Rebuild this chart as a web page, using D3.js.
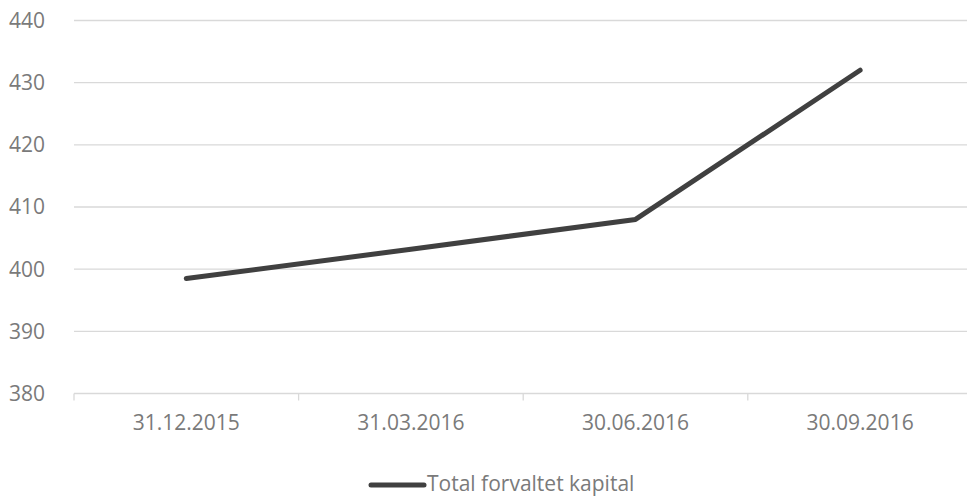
<!DOCTYPE html>
<html><head><meta charset="utf-8">
<script src="https://cdn.jsdelivr.net/npm/d3@7"></script>
<style>body{margin:0;background:#fff}svg{display:block}text{font-family:"Open Sans",sans-serif}</style>
</head><body><svg id="c" width="967" height="496"></svg>
<script>
const categories = ["31.12.2015","31.03.2016","30.06.2016","30.09.2016"];
const values = [398.5, 403.2, 408, 432];
const yTicks = [380,390,400,410,420,430,440];
const seriesName = "Total forvaltet kapital";

const svg = d3.select("#c");
const mLeft = 74, mRight = 972.4, mTop = 20.5, mBottom = 393.5;
const x = d3.scaleBand().domain(categories).range([mLeft, mRight]);
const y = d3.scaleLinear().domain([380, 440]).range([mBottom, mTop]);
const textColor = "#7a7a7a", gridColor = "#d9d9d9";
const fs = 21;

// gridlines
svg.append("g").selectAll("line").data(yTicks.filter(d => d !== 380)).join("line")
  .attr("x1", mLeft).attr("x2", mRight).attr("y1", d => y(d)).attr("y2", d => y(d))
  .attr("stroke", gridColor).attr("stroke-width", 1.3);

// y labels
svg.append("g").selectAll("text").data(yTicks).join("text")
  .attr("x", 45).attr("y", d => y(d)).attr("dy", "0.35em").attr("text-anchor", "end")
  .attr("fill", textColor).attr("font-size", fs).text(d => d);

// x axis
const xAxis = d3.axisBottom(x).tickSize(0).tickPadding(22);
const gx = svg.append("g").attr("transform", `translate(0,${mBottom})`).call(xAxis);
gx.select(".domain").remove();
gx.selectAll("text").attr("fill", textColor).attr("font-size", fs).attr("font-family", "'Open Sans',sans-serif");
svg.append("line").attr("x1", mLeft).attr("x2", mRight).attr("y1", mBottom).attr("y2", mBottom)
  .attr("stroke", gridColor).attr("stroke-width", 1.3);
const bounds = categories.map(c => x(c)).concat([mRight]);
svg.append("g").selectAll("line").data(bounds).join("line")
  .attr("x1", d => d).attr("x2", d => d).attr("y1", mBottom).attr("y2", mBottom + 7)
  .attr("stroke", gridColor).attr("stroke-width", 1.3);

// line
const line = d3.line().x((d, i) => x(categories[i]) + x.bandwidth() / 2).y(d => y(d));
svg.append("path").datum(values).attr("d", line).attr("fill", "none")
  .attr("stroke", "#404040").attr("stroke-width", 5).attr("stroke-linecap", "round").attr("stroke-linejoin", "round");

// legend
svg.append("line").attr("x1", 371).attr("x2", 424).attr("y1", 485).attr("y2", 485)
  .attr("stroke", "#404040").attr("stroke-width", 5).attr("stroke-linecap", "round");
svg.append("text").attr("x", 427).attr("y", 484).attr("dy", "0.35em").attr("fill", textColor)
  .attr("font-size", fs).text(seriesName);
</script></body></html>
